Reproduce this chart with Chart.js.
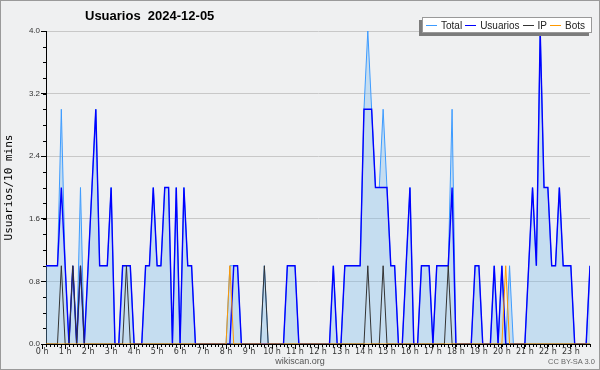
<!DOCTYPE html>
<html>
<head>
<meta charset="utf-8">
<script src="https://cdn.jsdelivr.net/npm/chart.js@4.4.1/dist/chart.umd.min.js"></script>
<style>
  body { margin: 0; background: #eff0f1; }
  #wrap { position: relative; width: 600px; height: 370px; font-family: 'Liberation Sans', Arial, sans-serif; }
  #frame { position: absolute; left: 0; top: 0; width: 598px; height: 368px; border: 1px solid #9a9a9a; pointer-events: none; }
  #title { position: absolute; left: 85px; top: 8px; font-size: 13px; font-weight: bold; white-space: pre; color: #000; }
  #legend { position: absolute; left: 422px; top: 17px; width: 168px; height: 14px; background: #fff; border: 1px solid #999;
    box-shadow: -3px 3px 0 #7c7c7c; display: flex; align-items: center; font-size: 10px; color: #222; white-space: nowrap; }
  #legend span.l { display: inline-block; width: 11px; height: 0; border-top: 1px solid; margin: 0 4px 0 3px; }
  #foot { position: absolute; left: 0; width: 600px; top: 356px; text-align: center; font-size: 9px; color: #555; }
  #cc { position: absolute; left: 548px; top: 357px; font-size: 7.5px; color: #666; }
</style>
</head>
<body>
<div id="wrap">
  <canvas id="myChart" width="600" height="370"></canvas>
  <div id="title">Usuarios  2024-12-05</div>
  <div id="legend">
    <span class="l" style="border-color:#3d9bff"></span>Total<span class="l" style="border-color:#0000ff"></span>Usuarios<span class="l" style="border-color:#333"></span>IP<span class="l" style="border-color:#ff9900"></span>Bots
  </div>
  <div id="foot">wikiscan.org</div>
  <div id="cc">CC BY-SA 3.0</div>
  <div id="frame"></div>
</div>
<script>
const hourLabels = ['0 h', '1 h', '2 h', '3 h', '4 h', '5 h', '6 h', '7 h', '8 h', '9 h', '10 h', '11 h',
  '12 h', '13 h', '14 h', '15 h', '16 h', '17 h', '18 h', '19 h', '20 h', '21 h', '22 h', '23 h'];
const yTicks = [0, 0.8, 1.6, 2.4, 3.2, 4.0];

// minutes since midnight, one slot every 10 minutes (00:10 .. 23:50)
const slots = [];
for (let m = 10; m <= 1430; m += 10) slots.push(m);

const usuarios = [
  1, 1, 1, 1, 2, 1, 0, 1, 0, 1, 0, 1, 2, 3, 1, 1, 1, 2, 0, 0, 1, 1, 1, 0,
  0, 0, 1, 1, 2, 1, 1, 2, 2, 0, 2, 0, 2, 1, 1, 0, 0, 0, 0, 0, 0, 0, 0, 0,
  0, 1, 1, 0, 0, 0, 0, 0, 0, 0, 0, 0, 0, 0, 0, 1, 1, 1, 0, 0, 0, 0, 0, 0,
  0, 0, 0, 1, 0, 0, 1, 1, 1, 1, 1, 3, 3, 3, 2, 2, 2, 2, 1, 1, 0, 0, 1,
  2, 0, 0, 1, 1, 1, 0, 1, 1, 1, 1, 2, 0, 0, 0, 0, 0, 1, 1, 0, 0, 0, 1, 0,
  1, 0, 0, 0, 0, 0, 0, 1, 2, 1, 4, 2, 2, 1, 1, 2, 1, 1, 1, 0, 0, 0, 0, 1,
];
const total = [
  1, 1, 1, 1, 3, 1, 0, 1, 0, 2, 0, 1, 2, 3, 1, 1, 1, 2, 0, 0, 1, 1, 1, 0,
  0, 0, 1, 1, 2, 1, 1, 2, 2, 0, 2, 0, 2, 1, 1, 0, 0, 0, 0, 0, 0, 0, 0, 0,
  1, 1, 1, 0, 0, 0, 0, 0, 0, 1, 0, 0, 0, 0, 0, 1, 1, 1, 0, 0, 0, 0, 0, 0,
  0, 0, 0, 1, 0, 0, 1, 1, 1, 1, 1, 3, 4, 3, 2, 2, 3, 2, 1, 1, 0, 0, 1,
  2, 0, 0, 1, 1, 1, 0, 1, 1, 1, 1, 3, 0, 0, 0, 0, 0, 1, 1, 0, 0, 0, 1, 0,
  1, 0, 1, 0, 0, 0, 0, 1, 2, 1, 4, 2, 2, 1, 1, 2, 1, 1, 1, 0, 0, 0, 0, 1,
];
const ip = [
  0, 0, 0, 0, 1, 0, 0, 1, 0, 1, 0, 0, 0, 0, 0, 0, 0, 0, 0, 0, 0, 1, 0, 0,
  0, 0, 0, 0, 0, 0, 0, 0, 0, 0, 0, 0, 0, 0, 0, 0, 0, 0, 0, 0, 0, 0, 0, 0,
  0, 0, 0, 0, 0, 0, 0, 0, 0, 1, 0, 0, 0, 0, 0, 0, 0, 0, 0, 0, 0, 0, 0, 0,
  0, 0, 0, 0, 0, 0, 0, 0, 0, 0, 0, 0, 1, 0, 0, 0, 1, 0, 0, 0, 0, 0, 0,
  0, 0, 0, 0, 0, 0, 0, 0, 0, 0, 1, 0, 0, 0, 0, 0, 0, 0, 0, 0, 0, 0, 0, 0,
  0, 0, 0, 0, 0, 0, 0, 0, 0, 0, 0, 0, 0, 0, 0, 0, 0, 0, 0, 0, 0, 0, 0, 0,
];
const bots = [
  0, 0, 0, 0, 0, 0, 0, 0, 0, 0, 0, 0, 0, 0, 0, 0, 0, 0, 0, 0, 0, 0, 0, 0,
  0, 0, 0, 0, 0, 0, 0, 0, 0, 0, 0, 0, 0, 0, 0, 0, 0, 0, 0, 0, 0, 0, 0, 0,
  1, 0, 0, 0, 0, 0, 0, 0, 0, 0, 0, 0, 0, 0, 0, 0, 0, 0, 0, 0, 0, 0, 0, 0,
  0, 0, 0, 0, 0, 0, 0, 0, 0, 0, 0, 0, 0, 0, 0, 0, 0, 0, 0, 0, 0, 0, 0,
  0, 0, 0, 0, 0, 0, 0, 0, 0, 0, 0, 0, 0, 0, 0, 0, 0, 0, 0, 0, 0, 0, 0, 0,
  0, 1, 0, 0, 0, 0, 0, 0, 0, 0, 0, 0, 0, 0, 0, 0, 0, 0, 0, 0, 0, 0, 0, 0,
];

const points = (arr) => arr.map((v, j) => ({ x: slots[j], y: v }));

// small ticks every 10 min on x and every 0.2 on y
const minorTicks = {
  id: 'minorTicks',
  afterDraw(chart) {
    const { ctx } = chart;
    const { x, y } = chart.scales;
    ctx.save();
    ctx.strokeStyle = '#000';
    ctx.lineWidth = 1;
    ctx.beginPath();
    slots.forEach((m) => {
      const px = Math.round(x.getPixelForValue(m)) + 0.5;
      ctx.moveTo(px, y.bottom);
      ctx.lineTo(px, y.bottom + 3);
    });
    for (let k = 0; k <= 20; k++) {
      const py = Math.round(y.getPixelForValue(k * 0.2)) + 0.5;
      ctx.moveTo(x.left - 3, py);
      ctx.lineTo(x.left, py);
    }
    ctx.stroke();
    ctx.restore();
  },
};

const ctx = document.getElementById('myChart').getContext('2d');
const myChart = new Chart(ctx, {
  type: 'line',
  data: {
    datasets: [{
      label: 'Total',
      data: points(total),
      borderColor: '#3d9bff',
      backgroundColor: 'rgba(119, 186, 238, 0.35)',
      borderWidth: 1,
      fill: 'origin',
      order: 4,
    }, {
      label: 'Usuarios',
      data: points(usuarios),
      borderColor: '#0000ff',
      borderWidth: 1.4,
      fill: false,
      order: 3,
    }, {
      label: 'IP',
      data: points(ip),
      borderColor: '#333333',
      borderWidth: 1,
      fill: false,
      order: 2,
    }, {
      label: 'Bots',
      data: points(bots),
      borderColor: '#ff9900',
      borderWidth: 1,
      fill: false,
      order: 1,
    }],
  },
  options: {
    responsive: false,
    animation: false,
    layout: { padding: { left: 0, right: 10, top: 31, bottom: 0 } },
    elements: { point: { radius: 0 }, line: { tension: 0 } },
    plugins: { legend: { display: false }, tooltip: { enabled: false } },
    scales: {
      x: {
        type: 'linear',
        min: slots[0],
        max: slots[slots.length - 1],
        afterBuildTicks: (s) => { s.ticks = hourLabels.map((h, k) => ({ value: k * 60 })); },
        grid: { drawOnChartArea: false, tickLength: 5, tickColor: '#000' },
        border: { color: '#000' },
        ticks: {
          autoSkip: false,
          maxRotation: 0,
          minRotation: 0,
          padding: -2,
          color: '#333',
          font: { family: 'DejaVu Sans', size: 8 },
          callback: (v) => hourLabels[Math.round(v / 60)],
        },
        afterFit: (s) => { s.height = 26; },
      },
      y: {
        min: 0,
        max: 4,
        grid: { color: '#c8c8c8', tickColor: '#000', tickLength: 5 },
        border: { color: '#000' },
        ticks: {
          stepSize: 0.8,
          padding: 1,
          color: '#333',
          font: { family: 'Liberation Sans', size: 8 },
          callback: (v) => (yTicks.some((t) => Math.abs(t - v) < 1e-6) ? v.toFixed(1) : null),
        },
        title: {
          display: true,
          text: 'Usuarios/10 mins',
          color: '#000',
          font: { family: 'DejaVu Sans Mono', size: 11 },
          padding: { top: 3, bottom: 0 },
        },
        afterFit: (s) => { s.width = 46; },
      },
    },
  },
  plugins: [minorTicks],
});
</script>
</body>
</html>
